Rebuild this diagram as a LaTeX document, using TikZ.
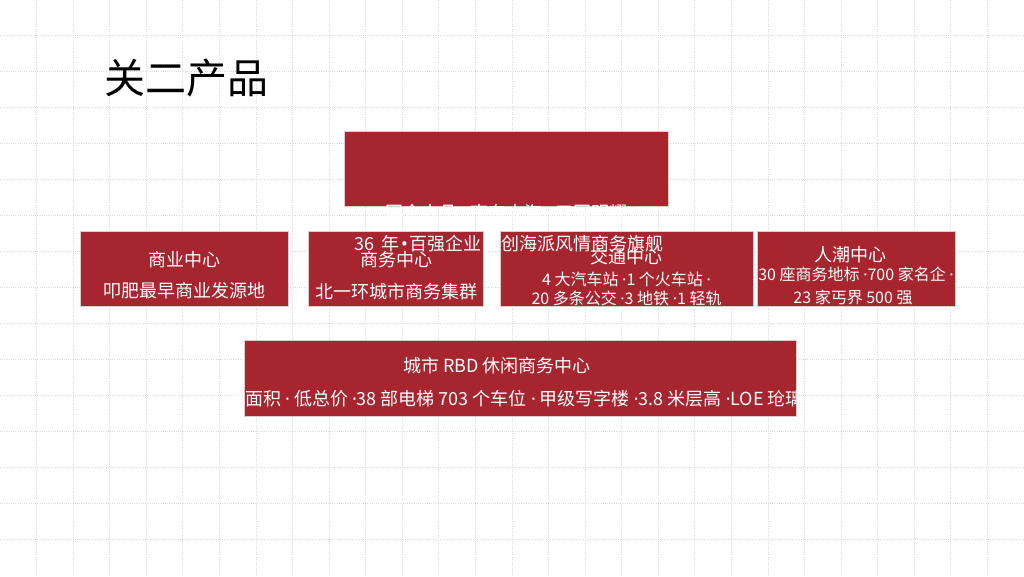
\documentclass[tikz,border=0pt]{standalone}
\usepackage{fontspec}
\setmainfont{Noto Sans CJK SC}
\newfontfamily\dotfont{Noto Sans}
\newcommand{\md}{{\dotfont ·}}
\newcommand{\bul}{{\dotfont •}}
\definecolor{boxred}{RGB}{166,37,47}
\definecolor{gridgray}{RGB}{220,220,220}
\definecolor{boxedge}{RGB}{222,205,207}
\begin{document}
\begin{tikzpicture}[x=1pt,y=-1pt,
  gridline/.style={gridgray, line width=0.8pt, dash pattern=on 1pt off 1.2pt},
  redbox/.style={rectangle, fill=boxred, draw=boxedge, line width=0.7pt, inner sep=0pt},
  txt/.style={text=white, inner sep=0pt, text height=0.8em, text depth=0.1em, font=\fontsize{18}{18}\selectfont},
  smalltxt/.style={txt, font=\fontsize{16}{16}\selectfont},
  titletxt/.style={inner sep=0pt, text height=0.8em, text depth=0.1em, font=\fontsize{41}{41}\selectfont, text=black}]
\useasboundingbox (0,0) rectangle (1024,576);
\fill[white] (0,0) rectangle (1024,576);
\foreach \k in {1,...,27} \draw[gridline] ({\k*36.5714},0) -- ({\k*36.5714},576);
\foreach \k in {1,...,15} \draw[gridline] (0,{\k*36-0.5}) -- (1024,{\k*36-0.5});
% title
\node[titletxt] (title) at (186.5,90) {关二产品};
% boxes
\node[redbox, minimum width=324pt, minimum height=75pt] (top) at (506.5,168.5) {};
\node[redbox, minimum width=208pt, minimum height=75pt] (b1) at (184.5,269) {};
\node[redbox, minimum width=175pt, minimum height=75pt] (b2) at (396,269) {};
\node[redbox, minimum width=253pt, minimum height=75pt] (b3) at (626.5,269) {};
\node[redbox, minimum width=198pt, minimum height=75pt] (b4) at (856,269) {};
\node[redbox, minimum width=552pt, minimum height=76pt] (b5) at (520,378) {};
% box texts
\node[txt] (b1a) at (184.5,263) {商业中心};
\node[txt] (b1b) at (184.5,294) {叩肥最早商业发源地};
\node[txt] (b2a) at (396,263) {商务中心};
\node[txt] (b2b) at (396,295) {北一环城市商务集群};
\node[txt] (b3a) at (626.5,260) {交通中心};
\node[smalltxt] (b3b) at (626.5,281.5) {4 大汽车站 \md1 个火车站 \md};
\node[smalltxt] (b3c) at (626.5,300.5) {20 多条公交 \md3 地铁 \md1 轻轨};
\node[txt] (b4a) at (850,258) {人潮中心};
\node[smalltxt] (b4b) at (856,276.5) {30 座商务地标 \md700 家名企 \md};
\node[smalltxt] (b4c) at (853,299.5) {23 家丐界 500 强};
\node[txt] (b5a) at (497,369) {城市 RBD 休闲商务中心};
\node[txt, anchor=west] (b5b) at (227,402) {小面积 \md{} 低总价 \md38 部电梯 703 个车位 \md{} 甲级写字楼 \md3.8 米层高 \md{}LOE 玱璃};
% top box text (overflowing)
\node[txt] (topa) at (506.5,216) {国企大品 \md{} 南东大海 \md{} 五国明耀};
\node[txt, anchor=east] (topb) at (664,247) {36\hspace{3pt} 年\hspace{2pt}\bul\hspace{2pt}百强企业\hspace{2pt}首创海派风情商务旗舰};
\end{tikzpicture}
\end{document}
